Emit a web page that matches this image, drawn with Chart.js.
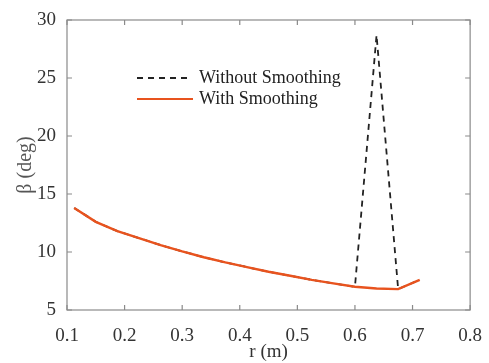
<!DOCTYPE html>
<html>
<head>
<meta charset="utf-8">
<script src="https://cdn.jsdelivr.net/npm/chart.js@4"></script>
<style>
  html, body { margin: 0; padding: 0; background: #fff; }
  #wrap { width: 489px; height: 363px; }
</style>
</head>
<body>
<div id="wrap"><canvas id="betaChart"></canvas></div>
<script>
const radius = [0.1125, 0.15, 0.1875, 0.225, 0.2625, 0.3, 0.3375, 0.375, 0.4125, 0.45, 0.4875, 0.525, 0.5625, 0.6, 0.6375, 0.675, 0.7125];
const withSmoothing = [13.8, 12.6, 11.8, 11.2, 10.6, 10.05, 9.55, 9.1, 8.7, 8.3, 7.95, 7.6, 7.3, 7.0, 6.85, 6.8, 7.6];
const withoutSmoothing = [13.8, 12.6, 11.8, 11.2, 10.6, 10.05, 9.55, 9.1, 8.7, 8.3, 7.95, 7.6, 7.3, 7.0, 28.7, 6.8, 7.6];
const xTicks = [0.1, 0.2, 0.3, 0.4, 0.5, 0.6, 0.7, 0.8];
const yTicks = [5, 10, 15, 20, 25, 30];

const FONT = "'Liberation Serif', 'Times New Roman', serif";
const ORANGE = "#e8531e";
const AXIS = "#8a8a8a";

const toPoints = (ys) => radius.map((r, i) => ({ x: r, y: ys[i] }));

// box around the plot, inward ticks on all four sides, legend inside the plot
const framePlugin = {
  id: "frame",
  afterDraw(chart) {
    const { ctx, chartArea: a, scales } = chart;
    ctx.save();
    ctx.strokeStyle = AXIS;
    ctx.lineWidth = 1.2;
    ctx.strokeRect(a.left, a.top, a.right - a.left, a.bottom - a.top);
    const len = 5;
    ctx.beginPath();
    xTicks.forEach((v) => {
      const px = scales.x.getPixelForValue(v);
      ctx.moveTo(px, a.bottom); ctx.lineTo(px, a.bottom - len);
      ctx.moveTo(px, a.top); ctx.lineTo(px, a.top + len);
    });
    yTicks.forEach((v) => {
      const py = scales.y.getPixelForValue(v);
      ctx.moveTo(a.left, py); ctx.lineTo(a.left + len, py);
      ctx.moveTo(a.right, py); ctx.lineTo(a.right - len, py);
    });
    ctx.stroke();

    // legend
    const items = chart.data.datasets;
    const lx = a.left + 70, ly = a.top + 58;
    ctx.font = "18px " + FONT;
    ctx.textBaseline = "middle";
    items.forEach((ds, i) => {
      const y = ly + i * 21;
      ctx.strokeStyle = ds.borderColor;
      ctx.lineWidth = 2;
      ctx.setLineDash(ds.borderDash || []);
      ctx.beginPath();
      ctx.moveTo(lx, y);
      ctx.lineTo(lx + (ds.borderDash ? 52 : 56), y);
      ctx.stroke();
      ctx.setLineDash([]);
      ctx.fillStyle = "#222";
      ctx.fillText(ds.label, lx + 62, y);
    });
    ctx.restore();
  },
};

new Chart(document.getElementById("betaChart"), {
  type: "scatter",
  data: {
    datasets: [
      {
        label: "Without Smoothing",
        data: toPoints(withoutSmoothing),
        showLine: true,
        borderColor: "#222",
        borderWidth: 1.8,
        borderDash: [6, 5],
        pointRadius: 0,
        order: 2,
      },
      {
        label: "With Smoothing",
        data: toPoints(withSmoothing),
        showLine: true,
        borderColor: ORANGE,
        borderWidth: 2.4,
        pointRadius: 0,
        order: 1,
      },
    ],
  },
  options: {
    responsive: true,
    maintainAspectRatio: false,
    animation: false,
    layout: { padding: { top: 20, right: 12, left: 0, bottom: 0 } },
    plugins: {
      legend: { display: false },
      tooltip: { enabled: false },
    },
    scales: {
      x: {
        type: "linear",
        min: 0.1,
        max: 0.8,
        afterBuildTicks: (s) => { s.ticks = xTicks.map((v) => ({ value: v })); },
        afterFit: (s) => { s.height = 53; },
        grid: { display: false },
        border: { display: false },
        ticks: {
          color: "#333",
          padding: 7,
          font: { family: FONT, size: 19 },
          callback: (v) => v.toFixed(1),
        },
        title: {
          display: true,
          text: "r (m)",
          color: "#333",
          padding: { top: 0, bottom: 0 },
          font: { family: FONT, size: 19 },
        },
      },
      y: {
        min: 5,
        max: 30,
        afterBuildTicks: (s) => { s.ticks = yTicks.map((v) => ({ value: v })); },
        afterFit: (s) => { s.width = 67; },
        grid: { display: false },
        border: { display: false },
        ticks: {
          color: "#333",
          padding: 3,
          font: { family: FONT, size: 19 },
        },
        title: {
          display: true,
          text: "β (deg)",
          color: "#555",
          padding: { top: 14, bottom: 0 },
          font: { family: FONT, size: 20 },
        },
      },
    },
  },
  plugins: [framePlugin],
});
</script>
</body>
</html>
